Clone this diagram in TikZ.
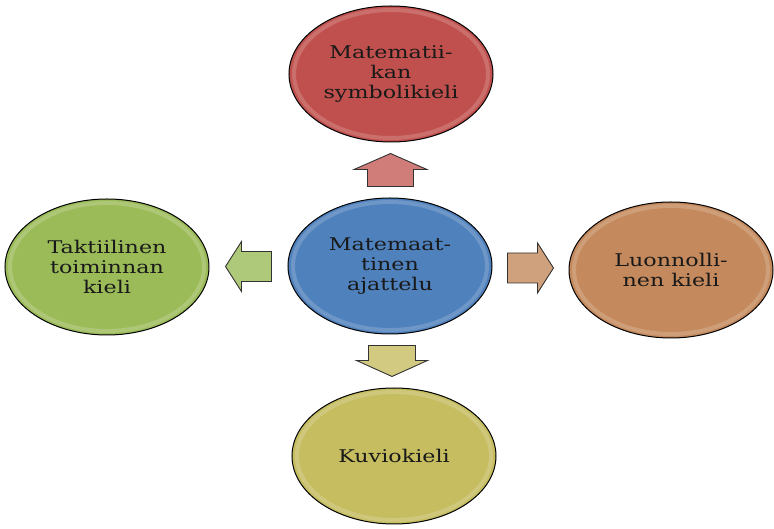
\documentclass[tikz,border=0pt]{standalone}
\usepackage{fontspec}
\setmainfont[FakeStretch=1.27]{DejaVu Serif}
\usetikzlibrary{shapes.geometric, calc}

\definecolor{ballred}{RGB}{192,80,77}
\definecolor{ballblue}{RGB}{79,129,189}
\definecolor{ballgreen}{RGB}{155,187,89}
\definecolor{ballbrown}{RGB}{196,137,92}
\definecolor{ballolive}{RGB}{197,189,96}

\tikzset{
  % block arrow pointing along +x: #1 length, #2 shaft half width, #3 head half width, #4 fill
  pics/blockarr/.style n args={4}{code={
    \draw[blockarrow, fill=#4] (-#1/2,-#2) -- (#1/2-16,-#2) -- (#1/2-16,-#3) -- (#1/2,0)
      -- (#1/2-16,#3) -- (#1/2-16,#2) -- (-#1/2,#2) -- cycle;
  }},
}

\begin{document}
\begin{tikzpicture}[
  x=1pt, y=1pt,
  ball/.style={ellipse, draw=black, line width=1pt, minimum width=204pt,
               minimum height=136pt, align=center, inner sep=0pt,
               font=\fontsize{17.5}{20}\selectfont, text=black!90,
               path picture={
                 \draw[white, opacity=0.18, line width=4pt]
                   (path picture bounding box.center) ellipse (97pt and 64pt);
               }},
  blockarrow/.style={draw=black!80, line width=0.9pt, line join=miter},
]
  \useasboundingbox (-390,-263) rectangle (384,266);

  % Balls
  \node[ball, fill=ballblue]  (mid)   at (0,0)     {Matemaat-\\tinen\\ajattelu};
  \node[ball, fill=ballred]   (top)   at (1,192)   {Matematii-\\kan\\symbolikieli};
  \node[ball, fill=ballgreen] (left)  at (-283,-1) {Taktiilinen\\toiminnan\\kieli};
  \node[ball, fill=ballbrown] (right) at (281,-4)  {Luonnolli-\\nen kieli};
  \node[ball, fill=ballolive] (bot)   at (4,-190)  {Kuviokieli};

  % Block arrows halfway between the balls
  \coordinate (cTop)   at ($(mid.north)!0.5!(top.south)$);
  \coordinate (cBot)   at ($(mid.south)!0.5!(bot.north)$);
  \coordinate (cLeft)  at ($(mid.west)!0.5!(left.east)$);
  \coordinate (cRight) at ($(mid.east)!0.5!(right.west)$);

  \pic[rotate=90]  at (cTop)   {blockarr={33}{23}{36.5}{ballred!75!white}};
  \pic[rotate=270] at (cBot)   {blockarr={31}{23.5}{35.5}{ballolive!80!white}};
  \pic[rotate=180] at (cLeft)  {blockarr={46}{15}{25}{ballgreen!80!white}};
  \pic             at (cRight) {blockarr={46}{15}{25}{ballbrown!80!white}};
\end{tikzpicture}
\end{document}
